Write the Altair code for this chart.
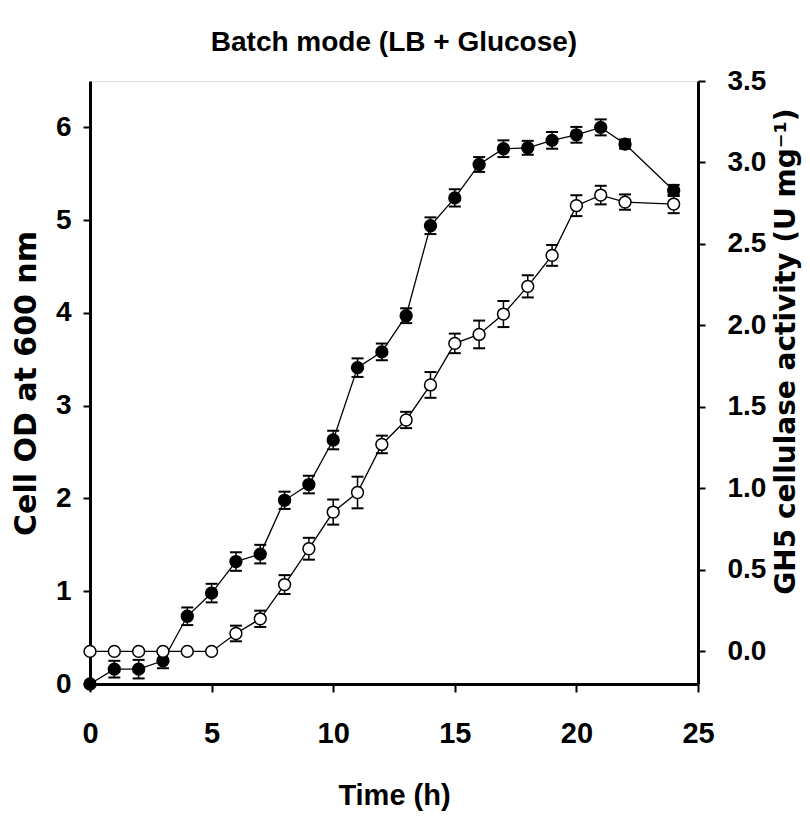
import altair as alt
import pandas as pd

# ---- data ----
time_h = [0, 1, 2, 3, 4, 5, 6, 7, 8, 9, 10, 11, 12, 13, 14, 15, 16, 17, 18, 19, 20, 21, 22, 24]
cell_od = [0.0, 0.16, 0.16, 0.25, 0.73, 0.98, 1.32, 1.40, 1.98, 2.15, 2.63, 3.41, 3.58, 3.97,
           4.94, 5.24, 5.60, 5.77, 5.78, 5.86, 5.92, 6.00, 5.82, 5.32]
cell_od_err = [0.0, 0.09, 0.10, 0.08, 0.095, 0.10, 0.10, 0.10, 0.093, 0.095, 0.10, 0.10, 0.09, 0.08,
               0.09, 0.093, 0.08, 0.09, 0.075, 0.09, 0.085, 0.086, 0.05, 0.06]
activity = [0.0, 0.0, 0.0, 0.0, 0.0, 0.0, 0.11, 0.20, 0.41, 0.63, 0.855, 0.975, 1.27, 1.42,
            1.635, 1.89, 1.945, 2.07, 2.24, 2.43, 2.735, 2.80, 2.757, 2.745]
activity_err = [0.0, 0.0, 0.0, 0.0, 0.0, 0.0, 0.048, 0.05, 0.058, 0.067, 0.077, 0.097, 0.054, 0.05,
                0.079, 0.06, 0.085, 0.08, 0.068, 0.064, 0.064, 0.057, 0.047, 0.056]

x_ticks = [0, 5, 10, 15, 20, 25]
od_ticks = [0, 1, 2, 3, 4, 5, 6]
act_ticks = [0.0, 0.5, 1.0, 1.5, 2.0, 2.5, 3.0, 3.5]

title_text = "Batch mode (LB + Glucose)"
x_title = "Time (h)"
left_title = "Cell OD at 600 nm"
right_title = "GH5 cellulase activity (U mg\u207b\u00b9)"

df = pd.DataFrame({
    "time": time_h,
    "od": cell_od,
    "od_err": cell_od_err,
    "act": activity,
    "act_err": activity_err,
})
df["od_lo"] = df["od"] - df["od_err"]
df["od_hi"] = df["od"] + df["od_err"]
df["act_lo"] = df["act"] - df["act_err"]
df["act_hi"] = df["act"] + df["act_err"]

NARROW = "Liberation Sans, Arial, sans-serif"
WIDE = "DejaVu Sans, Liberation Sans, sans-serif"

W, H = 608, 603

x_axis = alt.Axis(
    values=x_ticks, title=x_title, grid=False,
    labelFont=NARROW, labelFontSize=29, labelFontWeight="bold", labelColor="black",
    labelPadding=27, labelFlush=False,
    tickSize=8, tickWidth=2, tickColor="black",
    domainWidth=3, domainColor="black",
    titleFont=NARROW, titleFontSize=29, titleFontWeight="bold", titleColor="black",
    titleX=W / 2, titleY=111, titleAlign="center", titleBaseline="middle",
)
x_scale = alt.Scale(domain=[0, 25], nice=False, zero=False)

left_axis = alt.Axis(
    values=od_ticks, format="d", orient="left", title=left_title, grid=False,
    labelFont=NARROW, labelFontSize=28, labelFontWeight="bold", labelColor="black",
    labelPadding=12, labelFlush=False,
    tickSize=7, tickWidth=2, tickColor="black",
    domainWidth=3, domainColor="black",
    titleFont=WIDE, titleFontSize=30, titleFontWeight="bold", titleColor="black",
    titleAngle=270, titleX=-64, titleY=302, titleAlign="center", titleBaseline="middle",
)
left_scale = alt.Scale(domain=[0, 6.5], nice=False, zero=False)

right_axis = alt.Axis(
    values=act_ticks, format=".1f", orient="right", title=right_title, grid=False,
    labelFont=NARROW, labelFontSize=28, labelFontWeight="bold", labelColor="black",
    labelPadding=22, labelFlush=False,
    tickSize=7, tickWidth=2, tickColor="black",
    domainWidth=3, domainColor="black",
    titleFont=WIDE, titleFontSize=28, titleFontWeight="bold", titleColor="black",
    titleAngle=270, titleX=88, titleY=270, titleAlign="center", titleBaseline="middle",
)
right_scale = alt.Scale(domain=[-0.2, 3.5], nice=False, zero=False)

base = alt.Chart(df)
X = alt.X("time:Q", scale=x_scale, axis=x_axis)


def series(val, lo, hi, scale, axis, fill):
    line = base.mark_line(color="black", strokeWidth=1.3).encode(
        x=X, y=alt.Y(f"{val}:Q", scale=scale, axis=axis)
    )
    err = base.transform_filter(f"datum.{val}_err > 0")
    bars = err.mark_rule(color="black", strokeWidth=1.5).encode(
        x=X, y=alt.Y(f"{lo}:Q", scale=scale, axis=axis), y2=f"{hi}:Q"
    )
    cap_lo = err.mark_rule(color="black", strokeWidth=2, xOffset=-6, x2Offset=6).encode(
        x=X, x2="time:Q", y=alt.Y(f"{lo}:Q", scale=scale, axis=axis)
    )
    cap_hi = err.mark_rule(color="black", strokeWidth=2, xOffset=-6, x2Offset=6).encode(
        x=X, x2="time:Q", y=alt.Y(f"{hi}:Q", scale=scale, axis=axis)
    )
    pts = base.mark_point(shape="circle", filled=True, size=140, fill=fill,
                          stroke="black", strokeWidth=1.5, opacity=1).encode(
        x=X, y=alt.Y(f"{val}:Q", scale=scale, axis=axis)
    )
    return alt.layer(line, bars, cap_lo, cap_hi, pts)


left = series("od", "od_lo", "od_hi", left_scale, left_axis, "black")
right = series("act", "act_lo", "act_hi", right_scale, right_axis, "white")

chart = alt.layer(left, right).resolve_scale(y="independent").properties(
    width=W,
    height=H,
    title=alt.TitleParams(
        title_text, font=NARROW, fontSize=28, fontWeight="bold", color="black",
        anchor="middle", offset=10,
    ),
    autosize=alt.AutoSizeParams(type="none"),
    padding={"left": 82, "top": 73, "right": 104, "bottom": 128},
).configure_view(stroke="black", strokeWidth=3).configure(background="white")

chart.save("out.html", embed_options={"renderer": "svg", "actions": False})
